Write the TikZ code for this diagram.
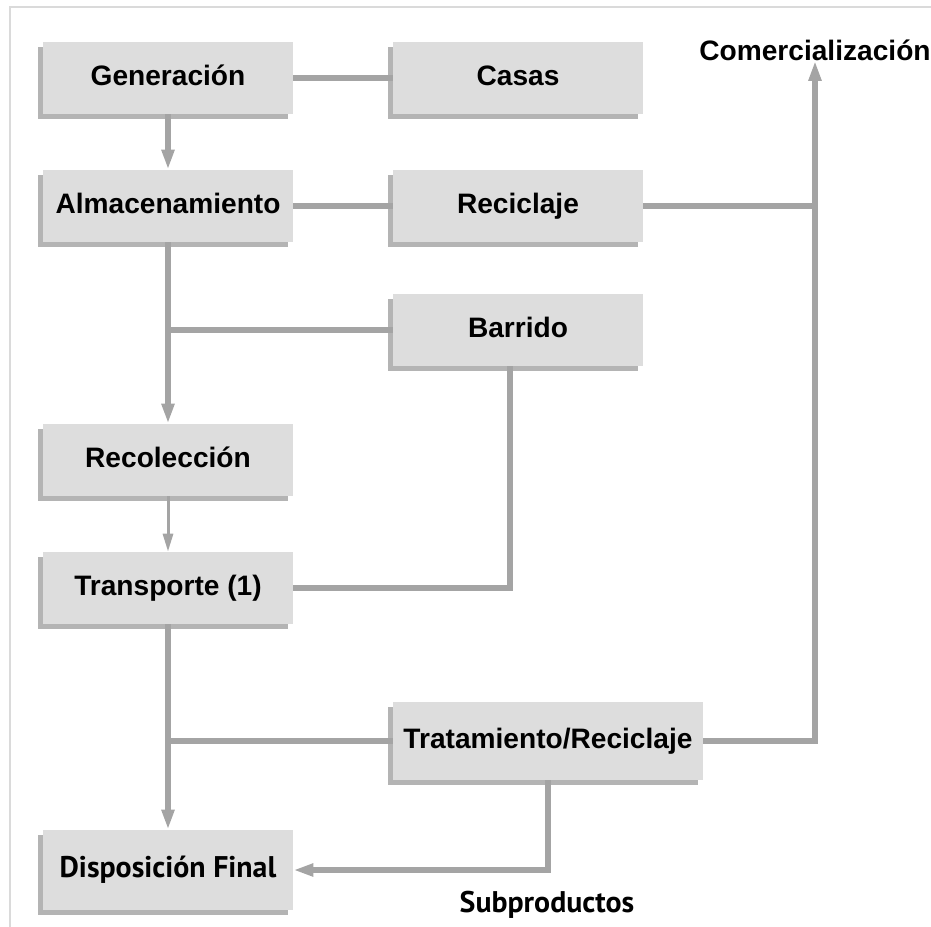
\documentclass[tikz,border=0pt]{standalone}
\usepackage{fontspec}
\setmainfont{Liberation Sans}
\newfontfamily\ptfont{PT Sans}
\usetikzlibrary{arrows.meta,shadows}
\definecolor{boxfill}{HTML}{DDDDDD}
\definecolor{boxshade}{HTML}{B4B4B4}
\definecolor{linegray}{HTML}{A4A4A4}
\definecolor{framegray}{HTML}{DADADA}

\begin{document}
\begin{tikzpicture}[x=0.02cm,y=-0.02cm,
  box/.style={fill=boxfill,minimum width=5cm,minimum height=1.44cm,inner sep=0pt,
    text height=1em,text depth=0.18em,
    drop shadow={shadow xshift=-0.1cm,shadow yshift=-0.1cm,fill=boxshade,opacity=1},
    font=\bfseries\fontsize{16}{19}\selectfont},
  lbl/.style={font=\bfseries\fontsize{16}{19}\selectfont,inner sep=0pt},
  arr/.style={-{Triangle[length=0.4cm,width=0.24cm]}},
  thinarr/.style={-{Triangle[length=0.36cm,width=0.2cm]},line width=0.06cm},
  hv/.style={to path={-| (\tikztotarget)}},
  vh/.style={to path={|- (\tikztotarget)}}]
\useasboundingbox (0,0) rectangle (931,927);
\draw[framegray,line width=0.04cm] (931,7) -| (10,927);

\node[box] (gen)    at (168,78)  {Generación};
\node[box] (casas)  at (518,78)  {Casas};
\node[box] (alm)    at (168,206) {Almacenamiento};
\node[box] (recic)  at (518,206) {Reciclaje};
\node[box] (barr)   at (518,330) {Barrido};
\node[box] (recol)  at (168,460) {Recolección};
\node[box] (transp) at (168,588) {Transporte (1)};
\node[box,minimum width=6.2cm,minimum height=1.56cm] (trat) at (548,741) {Tratamiento/Reciclaje};
\node[box,minimum height=1.6cm,font=\ptfont\bfseries\fontsize{17}{20}\selectfont] (disp) at (168,870) {Disposición Final};
\node[lbl] (comer) at (815,50) {Comercialización};
\node[lbl,font=\ptfont\bfseries\fontsize{17}{20}\selectfont] (subp) at (547,905) {Subproductos};

\path[draw=linegray,line width=0.11cm,fill=linegray]
        (gen)    edge [arr]     (alm)
                 edge           (casas)
        (alm)    edge           (recic)
                 edge [arr]     (recol)
        (barr)   edge           (barr -| alm)
        (recol)  edge [thinarr] (transp)
        ([xshift=-0.16cm]barr.south) edge [vh] (transp)
        (transp) edge [arr]     (disp)
        (trat)   edge           (trat -| transp)
                 edge [arr,hv]  (comer)
                 edge [arr,vh]  (disp)
        (recic)  edge           (recic -| comer)
        ;
\end{tikzpicture}
\end{document}
